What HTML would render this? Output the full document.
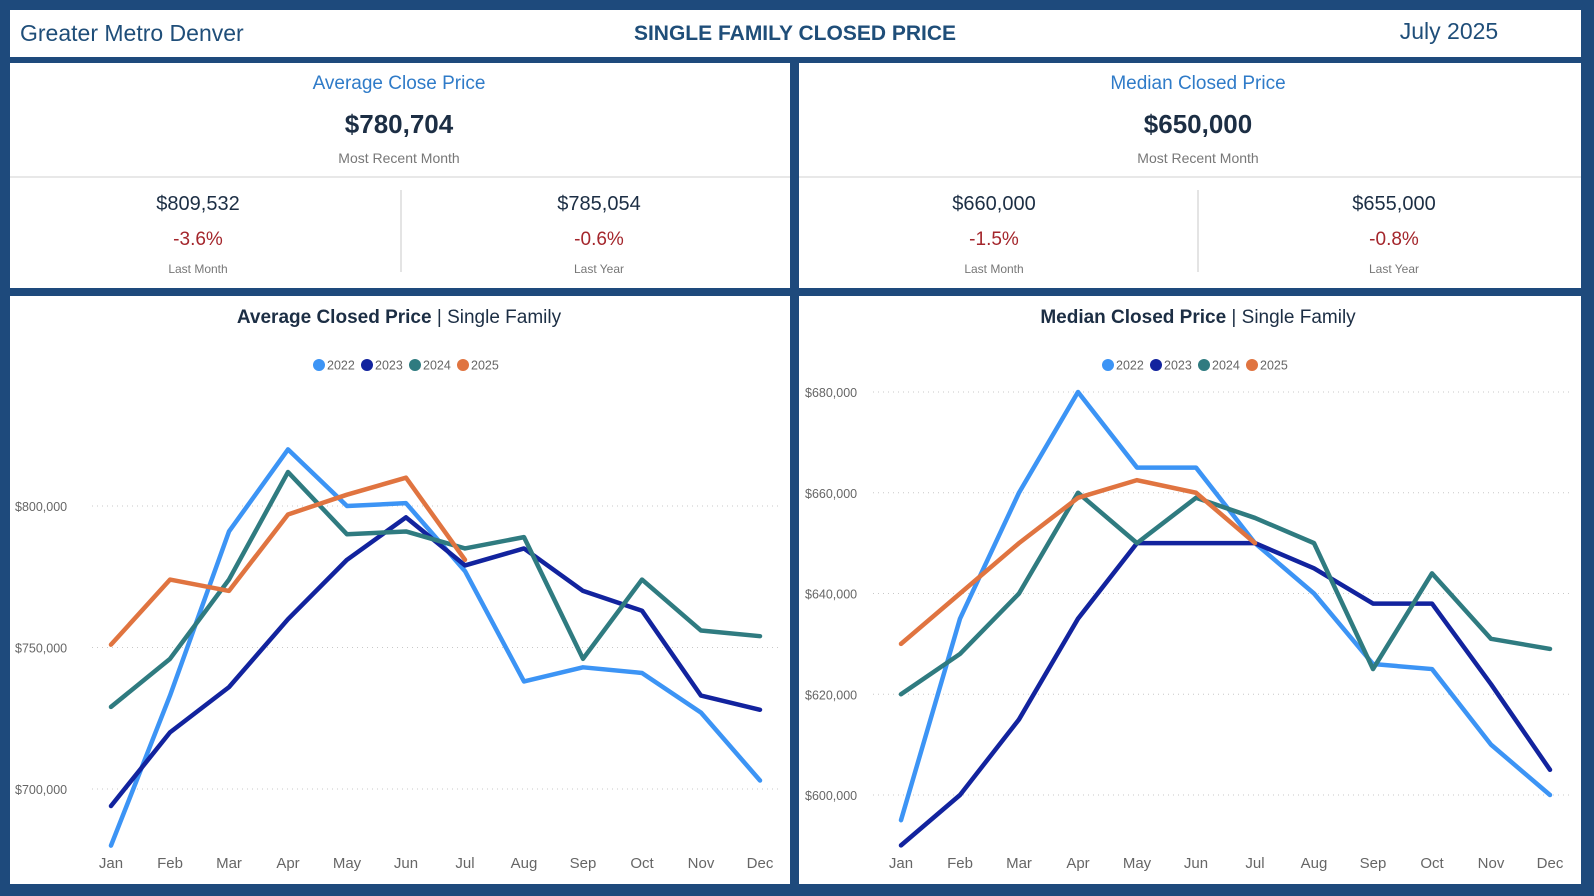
<!DOCTYPE html>
<html><head><meta charset="utf-8">
<style>
html,body{margin:0;padding:0}
body{width:1594px;height:896px;background:#1e4a7c;position:relative;overflow:hidden;font-family:"Liberation Sans",sans-serif}
.box{position:absolute;background:#fff}
.t{position:absolute;white-space:nowrap;transform:translateX(-50%)}
svg{position:absolute;left:0;top:0}
</style></head><body>
<div class="box" style="left:10px;top:10px;width:1571px;height:47px">
  <div style="position:absolute;left:10px;top:10px;font-size:23px;color:#1f4e79">Greater Metro Denver</div>
  <div class="t" style="left:785px;top:12px;font-size:21px;font-weight:bold;color:#1f4e79">SINGLE FAMILY CLOSED PRICE</div>
  <div class="t" style="left:1439px;top:8px;font-size:23px;color:#1f4e79">July 2025</div>
</div>

<div class="box" style="left:10px;top:63px;width:780px;height:225px">
  <div class="t" style="left:389px;top:10px;font-size:19px;color:#2f7bc8">Average Close Price</div>
  <div class="t" style="left:389px;top:46px;font-size:26px;font-weight:bold;color:#1c2e44">$780,704</div>
  <div class="t" style="left:389px;top:87px;font-size:14px;color:#777">Most Recent Month</div>
  <div style="position:absolute;left:0;top:113px;width:780px;height:2px;background:#e8e8e8"></div>
  <div style="position:absolute;left:390px;top:127px;width:2px;height:82px;background:#e4e4e4"></div>
  <div class="t" style="left:188px;top:130px;font-size:20px;color:#1c2e44">$809,532</div>
  <div class="t" style="left:188px;top:166px;font-size:19px;color:#a4262c">-3.6%</div>
  <div class="t" style="left:188px;top:199px;font-size:12px;color:#777">Last Month</div>
  <div class="t" style="left:589px;top:130px;font-size:20px;color:#1c2e44">$785,054</div>
  <div class="t" style="left:589px;top:166px;font-size:19px;color:#a4262c">-0.6%</div>
  <div class="t" style="left:589px;top:199px;font-size:12px;color:#777">Last Year</div>
</div>

<div class="box" style="left:799px;top:63px;width:782px;height:225px">
  <div class="t" style="left:399px;top:10px;font-size:19px;color:#2f7bc8">Median Closed Price</div>
  <div class="t" style="left:399px;top:46px;font-size:26px;font-weight:bold;color:#1c2e44">$650,000</div>
  <div class="t" style="left:399px;top:87px;font-size:14px;color:#777">Most Recent Month</div>
  <div style="position:absolute;left:0;top:113px;width:782px;height:2px;background:#e8e8e8"></div>
  <div style="position:absolute;left:398px;top:127px;width:2px;height:82px;background:#e4e4e4"></div>
  <div class="t" style="left:195px;top:130px;font-size:20px;color:#1c2e44">$660,000</div>
  <div class="t" style="left:195px;top:166px;font-size:19px;color:#a4262c">-1.5%</div>
  <div class="t" style="left:195px;top:199px;font-size:12px;color:#777">Last Month</div>
  <div class="t" style="left:595px;top:130px;font-size:20px;color:#1c2e44">$655,000</div>
  <div class="t" style="left:595px;top:166px;font-size:19px;color:#a4262c">-0.8%</div>
  <div class="t" style="left:595px;top:199px;font-size:12px;color:#777">Last Year</div>
</div>

<div class="box" style="left:10px;top:296px;width:780px;height:588px">
  <div class="t" style="left:389px;top:11px;font-size:19px;color:#1c2e44"><b>Average Closed Price</b> | Single Family</div>
  <svg id="chartA" width="780" height="588"></svg>
</div>
<div class="box" style="left:799px;top:296px;width:782px;height:588px">
  <div class="t" style="left:399px;top:11px;font-size:19px;color:#1c2e44"><b>Median Closed Price</b> | Single Family</div>
  <svg id="chartB" width="782" height="588"></svg>
</div>

<script>
const months = ["Jan","Feb","Mar","Apr","May","Jun","Jul","Aug","Sep","Oct","Nov","Dec"];
const years = ["2022","2023","2024","2025"];
const avg2022 = [680000,733000,791000,820000,800000,801000,777000,738000,743000,741000,727000,703000];
const avg2023 = [694000,720000,736000,760000,781000,796000,779000,785000,770000,763000,733000,728000];
const avg2024 = [729000,746000,774000,812000,790000,791000,785000,789000,746000,774000,756000,754000];
const avg2025 = [751000,774000,770000,797000,804000,810000,781000];
const med2022 = [595000,635000,660000,680000,665000,665000,650000,640000,626000,625000,610000,600000];
const med2023 = [590000,600000,615000,635000,650000,650000,650000,645000,638000,638000,622000,605000];
const med2024 = [620000,628000,640000,660000,650000,659000,655000,650000,625000,644000,631000,629000];
const med2025 = [630000,640000,650000,659000,662500,660000,650000];
const avgTicks = [700000,750000,800000];
const medTicks = [600000,620000,640000,660000,680000];
const colors = ["#3c94f5","#12239e","#2f7b80","#e07440"];
const NS = "http://www.w3.org/2000/svg";
function mk(svg, tag, attrs){const e=document.createElementNS(NS,tag);for(const k in attrs)e.setAttribute(k,attrs[k]);svg.appendChild(e);return e;}
function fmt(v){return "$"+v.toLocaleString("en-US");}
function draw(svg, series, ticks, x0, x1, vA, yA, vB, yB, labelX, gridX0, gridX1, legendCx){
  const xs = i => x0 + (x1-x0)*i/11;
  const ys = v => yA + (v-vA)*(yB-yA)/(vB-vA);
  ticks.forEach(t=>{
    const g = mk(svg,"line",{x1:gridX0,x2:gridX1,y1:ys(t),y2:ys(t),stroke:"#c8c8c8","stroke-width":1,"stroke-dasharray":"1 4"});
    
    
    const tx = mk(svg,"text",{x:labelX,y:ys(t)+5,"font-size":12.5,fill:"#666","font-family":"Liberation Sans, sans-serif"});
    tx.textContent = fmt(t);
    
    
  });
  months.forEach((m,i)=>{
    const tx = mk(svg,"text",{x:xs(i),y:572,"font-size":15,fill:"#666","text-anchor":"middle","font-family":"Liberation Sans, sans-serif"});
    tx.textContent = m;
    
    
  });
  let lx = legendCx - 96;
  years.forEach((y,i)=>{
    const c = mk(svg,"circle",{cx:lx+6,cy:69,r:6,fill:colors[i]});
    
    
    const tx = mk(svg,"text",{x:lx+14,y:73.5,"font-size":12.5,fill:"#666","font-family":"Liberation Sans, sans-serif"});
    tx.textContent = y;
    
    
    lx += 48;
  });
  series.forEach((s,i)=>{
    const pts = s.map((v,j)=>xs(j)+","+ys(v)).join(" ");
    const p = mk(svg,"polyline",{points:pts,fill:"none",stroke:colors[i],"stroke-width":4.5,"stroke-linejoin":"round","stroke-linecap":"round"});
    
    
  });
}
draw(document.getElementById("chartA"), [avg2022,avg2023,avg2024,avg2025], avgTicks, 101, 750, 800000, 210, 700000, 493, 5, 82, 772, 399);
draw(document.getElementById("chartB"), [med2022,med2023,med2024,med2025], medTicks, 102, 751, 680000, 96, 600000, 499, 6, 74, 772, 399);
</script>
</body></html>
